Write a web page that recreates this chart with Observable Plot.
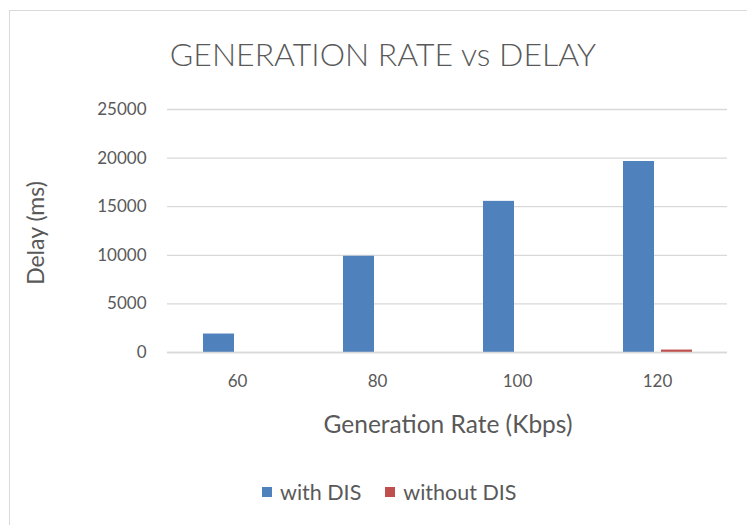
<!DOCTYPE html>
<html>
<head>
<meta charset="utf-8">
<script src="https://cdn.jsdelivr.net/npm/d3@7"></script>
<script src="https://cdn.jsdelivr.net/npm/@observablehq/plot@0.6"></script>
<style>
  html, body { margin: 0; padding: 0; background: #fff; }
  #wrap { position: relative; width: 747px; height: 525px; overflow: hidden; font-family: "Lato", "Open Sans", sans-serif; color: #595959; }
  #frame { position: absolute; left: 9px; top: 10px; width: 760px; height: 540px; border-left: 1.5px solid #d9d9d9; border-top: 1.5px solid #d9d9d9; box-sizing: border-box; }
  #chart { position: absolute; left: 0; top: 0; }
  #title { position: absolute; left: 9px; width: 748px; top: 34px; text-align: center; font-size: 32px; font-weight: 300; line-height: 40px; white-space: nowrap; }
  #ylab { position: absolute; left: 35px; top: 233px; transform: translate(-50%, -50%) rotate(-90deg); font-size: 23px; white-space: nowrap; }
  #xlab { position: absolute; left: 448px; top: 423px; transform: translate(-50%, -50%); font-size: 24.5px; white-space: nowrap; }
  #legend { position: absolute; top: 478px; left: 262px; height: 28px; display: flex; align-items: center; font-size: 21.5px; white-space: nowrap; }
  .sw { display: inline-block; width: 10px; height: 10px; margin-right: 8px; }
  .item { display: flex; align-items: center; margin-right: 24px; }
</style>
</head>
<body>
<div id="wrap">
  <div id="frame"></div>
  <div id="chart"></div>
  <div id="title">GENERATION RATE vs DELAY</div>
  <div id="ylab">Delay (ms)</div>
  <div id="xlab">Generation Rate (Kbps)</div>
  <div id="legend"></div>
</div>
<script>
const categories = ["60", "80", "100", "120"];
const seriesNames = ["with DIS", "without DIS"];
const withDIS = [1900, 9900, 15550, 19650];
const withoutDIS = [0, 0, 0, 250];
const yTicks = [0, 5000, 10000, 15000, 20000, 25000];
const colors = ["#4f81bd", "#c0504d"];

const rows = [];
categories.forEach((c, i) => {
  rows.push({rate: c, series: seriesNames[0], value: withDIS[i]});
  rows.push({rate: c, series: seriesNames[1], value: withoutDIS[i]});
});

const chart = Plot.plot({
  width: 747,
  height: 525,
  marginTop: 109,
  marginBottom: 173,
  marginLeft: 166,
  marginRight: 19,
  style: {fontFamily: "Lato, Open Sans, sans-serif", fontSize: "17px", color: "#595959", background: "transparent"},
  fx: {domain: categories, padding: 0, label: null, tickSize: 0, tickPadding: 22},
  x: {domain: seriesNames, paddingInner: 0.19, paddingOuter: 0.9, axis: null},
  y: {domain: [0, 25000], ticks: yTicks, tickSize: 0, tickPadding: 21, label: null, tickFormat: d => String(d)},
  color: {domain: seriesNames, range: colors},
  marks: [
    Plot.gridY(yTicks, {stroke: "#d9d9d9", strokeOpacity: 1, strokeWidth: 1.3}),
    Plot.barY(rows, {fx: "rate", x: "series", y: "value", fill: "series"}),
    Plot.ruleY([0], {stroke: "#d9d9d9", strokeWidth: 1.5})
  ]
});
document.getElementById("chart").appendChild(chart);

const legend = document.getElementById("legend");
seriesNames.forEach((s, i) => {
  const item = document.createElement("div");
  item.className = "item";
  const sw = document.createElement("span");
  sw.className = "sw";
  sw.style.background = colors[i];
  item.appendChild(sw);
  item.appendChild(document.createTextNode(s));
  legend.appendChild(item);
});
</script>
</body>
</html>
